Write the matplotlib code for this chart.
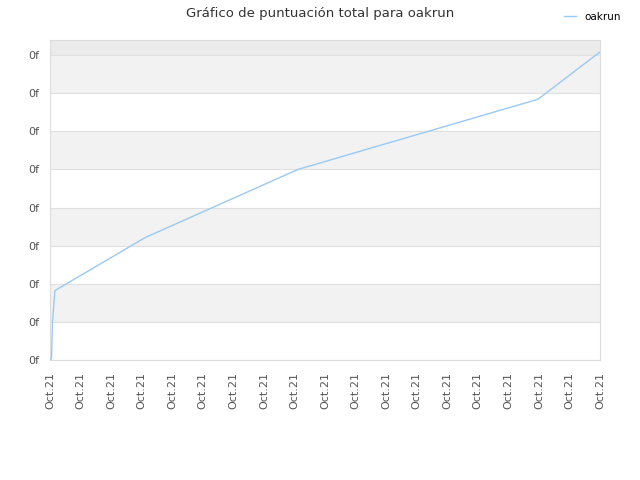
import matplotlib
matplotlib.use('Agg')
import matplotlib.pyplot as plt

# data (x in tick steps, y in grid steps)
x_vals = [0.0, 0.05, 0.08, 0.13, 0.16, 3.11, 8.12, 15.97, 18.0]
y_vals = [0.0, 0.03, 1.0, 1.5, 1.82, 3.21, 5.0, 6.84, 8.08]
x_ticks = list(range(19))
x_labels = ['Oct.21'] * 19
y_ticks = list(range(9))
y_labels = ['0f'] * 9

fig = plt.figure(figsize=(6.4, 4.8), dpi=100)
ax = fig.add_axes([50/640, 120/480, 550/640, 320/480])

ymax = 8 + 15/38.1
for lo in [1, 3, 5, 7]:
    ax.axhspan(lo, lo + 1, color='#f2f2f2', zorder=0, lw=0)
ax.axhspan(8, ymax, color='#ebebeb', zorder=0, lw=0)
for t in y_ticks:
    ax.axhline(t, color='#e0e0e0', lw=0.8, zorder=1)

ax.plot(x_vals, y_vals, color='#99c9f5', lw=1, label='oakrun', zorder=3)

ax.set_xlim(0, 18)
ax.set_ylim(0, ymax)
ax.set_xticks(x_ticks)
ax.set_xticklabels(x_labels, rotation=90, fontsize=8, color='#555')
ax.set_yticks(y_ticks)
ax.set_yticklabels(y_labels, fontsize=8, color='#555')
ax.tick_params(axis='x', length=0, pad=8.5)
ax.tick_params(axis='y', length=0, pad=7.5)
for s in ax.spines.values():
    s.set_color('#dddddd')

fig.suptitle('Gráfico de puntuación total para oakrun', fontsize=9.5, color='#333', x=0.5, y=0.985)
fig.legend(loc='upper right', bbox_to_anchor=(0.985, 0.995), frameon=False, fontsize=7.5,
           handlelength=1.2, handletextpad=0.8)

fig.savefig('out.png', dpi=100)
